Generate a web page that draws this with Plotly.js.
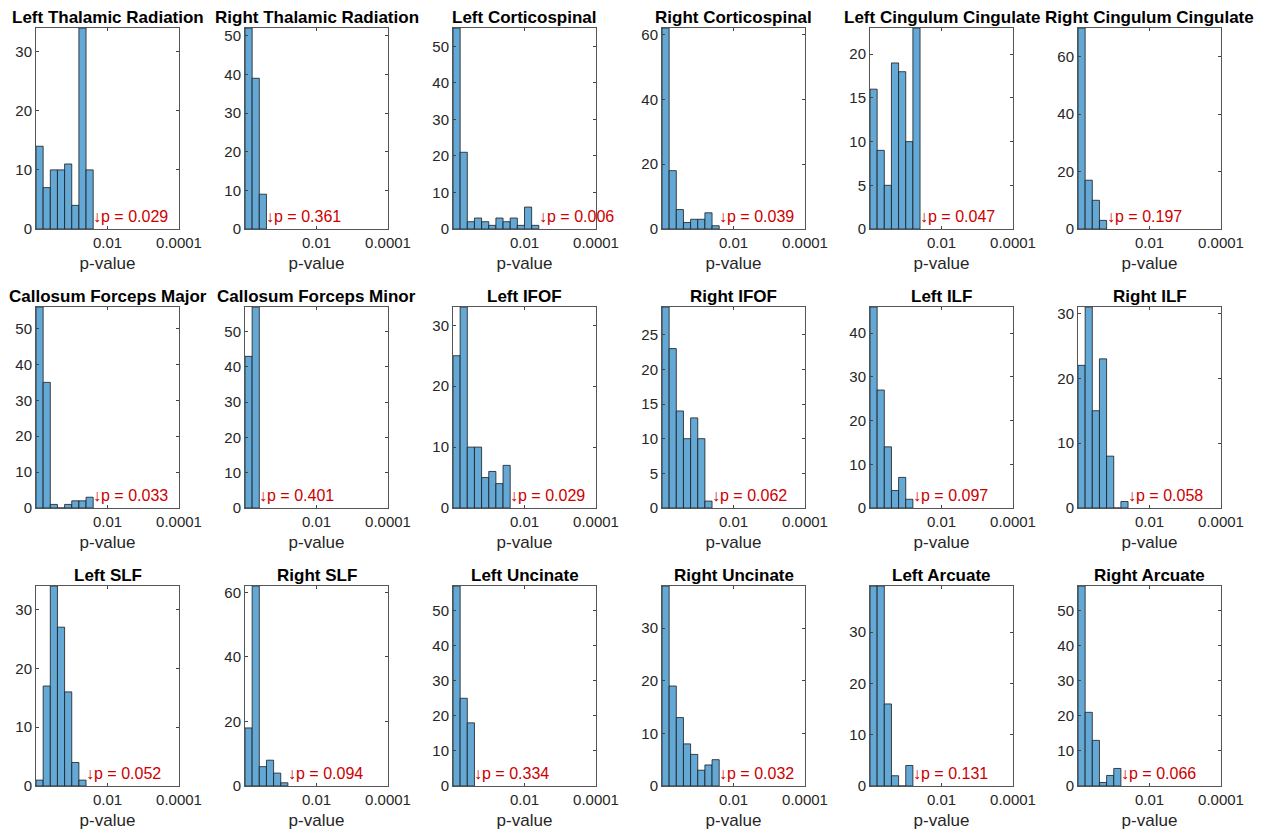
<!DOCTYPE html>
<html>
<head>
<meta charset="utf-8">
<script src="https://cdn.plot.ly/plotly-3.0.1.min.js"></script>
<style>html,body{margin:0;padding:0;background:#fff;}#chart{width:1261px;height:835px;}</style>
</head>
<body>
<div id="chart"></div>
<script>
// ---- data (counts per bin of -log10(p), bins start at 0, width 0.2) ----
const tractNames = [
  "Left Thalamic Radiation", "Right Thalamic Radiation", "Left Corticospinal",
  "Right Corticospinal", "Left Cingulum Cingulate", "Right Cingulum Cingulate",
  "Callosum Forceps Major", "Callosum Forceps Minor", "Left IFOF",
  "Right IFOF", "Left ILF", "Right ILF",
  "Left SLF", "Right SLF", "Left Uncinate",
  "Right Uncinate", "Left Arcuate", "Right Arcuate"
];
const pValueLabels = [
  "0.029", "0.361", "0.006", "0.039", "0.047", "0.197",
  "0.033", "0.401", "0.029", "0.062", "0.097", "0.058",
  "0.052", "0.094", "0.334", "0.032", "0.131", "0.066"
];
const leftThalamic   = [14, 7, 10, 10, 11, 4, 34, 10];
const rightThalamic  = [52, 39, 9];
const leftCST        = [55, 21, 2, 3, 2, 1, 3, 2, 3, 1, 6, 1];
const rightCST       = [62, 18, 6, 2, 3, 3, 5, 1];
const leftCingulum   = [16, 9, 5, 19, 18, 10, 23];
const rightCingulum  = [70, 17, 10, 3];
const forcepsMajor   = [56, 35, 1, 0, 1, 2, 2, 3];
const forcepsMinor   = [43, 57];
const leftIFOF       = [25, 33, 10, 10, 5, 6, 4, 7];
const rightIFOF      = [29, 23, 14, 10, 13, 10, 1];
const leftILF        = [46, 27, 14, 4, 7, 2];
const rightILF       = [22, 31, 15, 23, 8, 0, 1];
const leftSLF        = [1, 17, 34, 27, 16, 4, 1];
const rightSLF       = [18, 62, 6, 8, 4, 1];
const leftUncinate   = [57, 25, 18];
const rightUncinate  = [38, 19, 13, 8, 6, 3, 4, 5];
const leftArcuate    = [39, 39, 16, 2, 0, 4];
const rightArcuate   = [57, 21, 13, 1, 3, 5];
const yTickSteps = [10, 10, 10, 20, 5, 20, 10, 10, 10, 5, 10, 10, 10, 20, 10, 10, 10, 10];
const xTickVals = [2, 4];
const xTickText = ["0.01", "0.0001"];

const allCounts = [leftThalamic, rightThalamic, leftCST, rightCST, leftCingulum, rightCingulum,
  forcepsMajor, forcepsMinor, leftIFOF, rightIFOF, leftILF, rightILF,
  leftSLF, rightSLF, leftUncinate, rightUncinate, leftArcuate, rightArcuate];

// ---- layout geometry ----
const W = 1261, H = 835;
const BIN_W = 0.2;
const colLeft = [36, 245, 453, 662, 870, 1078];
const axW = 143;
const rowTop = [28, 307, 586];
const rowBot = [229, 508, 786];
const FONT = "Liberation Sans, Arial, Helvetica, sans-serif";
const TXT = "#262626";

const traces = [];
const layout = {
  width: W, height: H,
  margin: {l: 0, r: 0, t: 0, b: 0},
  paper_bgcolor: "#fff", plot_bgcolor: "#fff",
  showlegend: false, bargap: 0,
  font: {family: FONT, size: 15, color: TXT},
  annotations: []
};

allCounts.forEach((counts, i) => {
  const n = i + 1;
  const r = Math.floor(i / 6), c = i % 6;
  const xa = "x" + (n === 1 ? "" : n), ya = "y" + (n === 1 ? "" : n);
  const xKey = "xaxis" + (n === 1 ? "" : n), yKey = "yaxis" + (n === 1 ? "" : n);
  traces.push({
    type: "bar",
    x: counts.map((_, k) => BIN_W * (k + 0.5)),
    y: counts,
    width: BIN_W,
    xaxis: xa, yaxis: ya,
    marker: {color: "rgb(100,168,214)", line: {color: "#1a1a1a", width: 0.8}},
    hoverinfo: "skip"
  });
  const ymax = Math.max(...counts);
  layout[xKey] = {
    domain: [colLeft[c] / W, (colLeft[c] + axW) / W],
    anchor: ya, range: [0, 4], fixedrange: true,
    tickmode: "array", tickvals: xTickVals, ticktext: xTickText,
    ticks: "inside", ticklen: 3, tickcolor: "#444", tickwidth: 1,
    showline: true, linecolor: "#555", linewidth: 1, mirror: "ticks",
    showgrid: false, zeroline: false,
    tickfont: {family: FONT, size: 15, color: TXT},
    title: {text: "p-value", font: {family: FONT, size: 17, color: TXT}, standoff: 7}
  };
  layout[yKey] = {
    domain: [1 - rowBot[r] / H, 1 - rowTop[r] / H],
    anchor: xa, range: [0, ymax], fixedrange: true,
    tick0: 0, dtick: yTickSteps[i],
    ticks: "inside", ticklen: 3, tickcolor: "#444", tickwidth: 1,
    showline: true, linecolor: "#555", linewidth: 1, mirror: "ticks",
    showgrid: false, zeroline: false,
    tickfont: {family: FONT, size: 15, color: TXT}
  };
  layout.annotations.push({
    xref: xa + " domain", yref: ya + " domain", x: 0.5, y: 1,
    xanchor: "center", yanchor: "bottom", yshift: -1, showarrow: false,
    text: "<b>" + tractNames[i] + "</b>",
    font: {family: FONT, size: 17, color: "#000"}
  });
  layout.annotations.push({
    xref: xa, yref: ya + " domain", x: counts.length * BIN_W, y: 0,
    xanchor: "left", yanchor: "bottom", yshift: 2, xshift: -2, showarrow: false,
    text: "\u2193p = " + pValueLabels[i],
    font: {family: FONT, size: 16, color: "#cc0000"}
  });
});

Plotly.newPlot("chart", traces, layout, {displayModeBar: false, staticPlot: true});
</script>
</body>
</html>
